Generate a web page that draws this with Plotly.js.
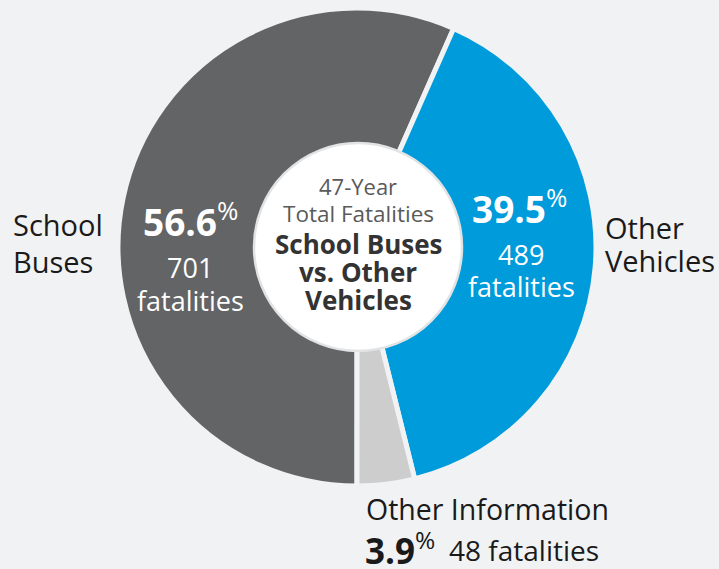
<!DOCTYPE html>
<html>
<head>
<meta charset="utf-8">
<script src="https://cdn.plot.ly/plotly-3.0.1.min.js"></script>
<style>html,body{margin:0;padding:0;background:#F1F2F4;}#chart{width:719px;height:569px;}</style>
</head>
<body>
<div id="chart"></div>
<script>
// ---- data ----
const labels = ["School Buses", "Other Vehicles", "Other Information"];
const values = [701, 489, 48];
const colors = ["#636466", "#009BDB", "#CDCDCD"];
const centerTitle = ["47-Year", "Total Fatalities"];
const centerBold = ["School Buses", "vs. Other", "Vehicles"];

const total = values.reduce((a, b) => a + b, 0);
const pct = values.map(v => (100 * v / total).toFixed(1));

const W = 719, H = 569;
const FONT = "Open Sans, Noto Sans, sans-serif";
const px = x => x / W;
const py = y => 1 - y / H;
const cx = 357, cy = 247, R = 239, r = 104;

function ann(x, y, text, size, color, xanchor, opts) {
  return Object.assign({
    xref: "paper", yref: "paper", x: px(x), y: py(y),
    xanchor: xanchor || "center", yanchor: "middle",
    text: text, showarrow: false,
    font: {family: FONT, size: size, color: color}
  }, opts || {});
}

const annotations = [
  // School Buses
  ann(11, 225, "School", 29, "#1a1a1a", "left"),
  ann(11, 261, "Buses", 29, "#1a1a1a", "left"),
  ann(190, 219, "<b>" + pct[0] + "</b><sup>%</sup>", 37, "#ffffff"),
  ann(190, 268, String(values[0]), 27, "#ffffff"),
  ann(190, 300, "fatalities", 27, "#ffffff"),
  // Other Vehicles
  ann(603, 227, "Other", 29, "#1a1a1a", "left"),
  ann(603, 260, "Vehicles", 29, "#1a1a1a", "left"),
  ann(519, 207, "<b>" + pct[1] + "</b><sup>%</sup>", 37, "#ffffff"),
  ann(521, 254, String(values[1]), 27, "#ffffff"),
  ann(521, 286, "fatalities", 27, "#ffffff"),
  // Other Information
  ann(364, 509, labels[2], 28.5, "#1a1a1a", "left"),
  ann(363, 548, "<b>" + pct[2] + "</b><sup>%</sup>", 35, "#1a1a1a", "left"),
  ann(447, 550, values[2] + " fatalities", 28, "#1a1a1a", "left"),
  // Center
  ann(cx + 1, 186, centerTitle[0], 22, "#5a5a5a"),
  ann(cx + 1, 213, centerTitle[1], 22.5, "#5a5a5a"),
  ann(cx + 1, 244, "<b>" + centerBold[0] + "</b>", 26, "#333333"),
  ann(cx + 1, 272, "<b>" + centerBold[1] + "</b>", 26, "#333333"),
  ann(cx + 1, 300, "<b>" + centerBold[2] + "</b>", 26, "#333333")
];

const trace = {
  type: "pie",
  labels: labels,
  values: values,
  sort: false,
  direction: "clockwise",
  rotation: 180,
  hole: 0.42,
  textinfo: "none",
  hoverinfo: "label+value+percent",
  marker: {colors: colors, line: {color: "#F1F2F4", width: 5}},
  domain: {x: [px(cx - R), px(cx + R)], y: [py(cy + R), py(cy - R)]},
  showlegend: false
};

const layout = {
  width: W, height: H,
  margin: {l: 0, r: 0, t: 0, b: 0},
  paper_bgcolor: "#F1F2F4",
  plot_bgcolor: "#F1F2F4",
  showlegend: false,
  annotations: annotations,
  shapes: [{
    type: "circle", xref: "paper", yref: "paper",
    xsizemode: "pixel", ysizemode: "pixel",
    xanchor: px(cx + 1), yanchor: py(cy),
    x0: -r, x1: r, y0: -r, y1: r,
    fillcolor: "#ffffff", line: {color: "#E2E3E5", width: 2.5},
    layer: "above"
  }]
};

Plotly.newPlot("chart", [trace], layout, {displayModeBar: false, staticPlot: true});
</script>
</body>
</html>
